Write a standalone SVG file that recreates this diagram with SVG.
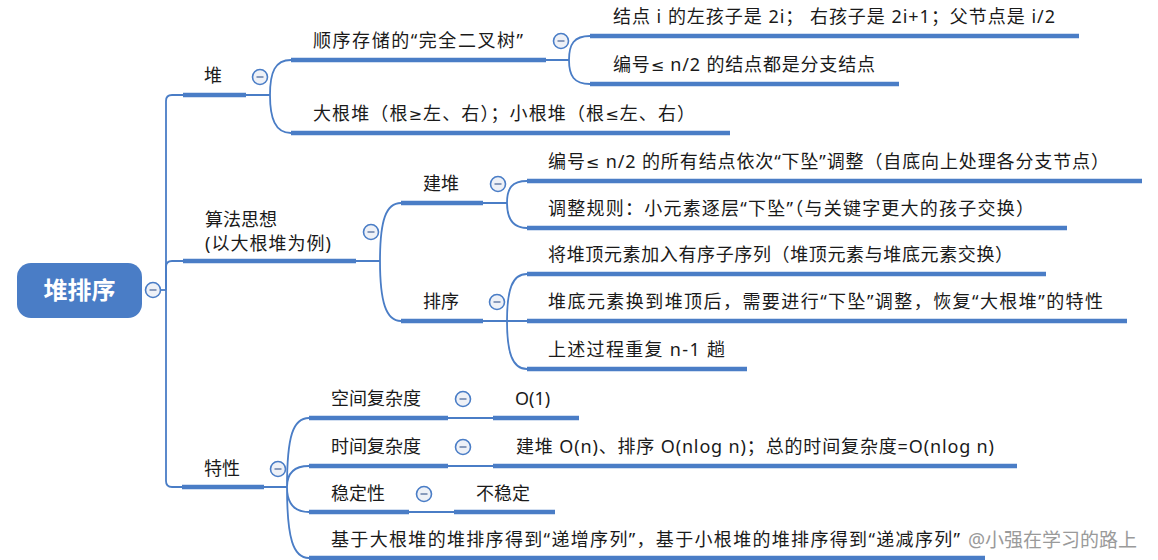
<svg xmlns="http://www.w3.org/2000/svg" width="1158" height="560" viewBox="0 0 1158 560">
<style>
text{font-family:"Noto Sans","Noto Sans CJK SC",sans-serif;font-size:18px;fill:#1a1a1a}
.m{font-family:"DejaVu Sans",sans-serif;font-size:16px}
.root{font-family:"Noto Sans CJK SC",sans-serif;font-size:24px;font-weight:bold;fill:#ffffff}
.u{stroke:#4a7dc6;stroke-width:4.5;fill:none}
.c{stroke:#4a7dc6;stroke-width:1.8;fill:none}
.tg circle{fill:#eef1f7;stroke:#4a7dc6;stroke-width:1.6}
.tg line{stroke:#6f86ad;stroke-width:1.6}
.wm{font-size:19px;fill:#9a9a9a}
</style>
<defs>
<g id="tog" class="tg"><circle r="7.5"/><line x1="-3.5" y1="0" x2="3.5" y2="0"/></g>
</defs>
<rect width="1158" height="560" fill="#ffffff"/>

<g id="connectors">
<path class="c" d="M161,290 H166"/>
<path class="c" d="M166,290 V101 Q166,95 172,95 H183"/>
<path class="c" d="M166,290 V267 Q166,261 172,261 H183"/>
<path class="c" d="M166,290 V481 Q166,487 172,487 H183"/>
<path class="c" d="M246,95 H270 M270,95 C270,72 275,60 291,60 M270,95 C270,118 275,133 291,133"/>
<path class="c" d="M546,60 H569 M569,60 C569,44 574,36 590,36 M569,60 C569,76 574,84 590,84"/>
<path class="c" d="M356,261 H380 M380,261 C380,220 386,203 401,203 M380,261 C380,302 386,321 401,321"/>
<path class="c" d="M483,203 H507 M507,203 C507,188 512,181 527,181 M507,203 C507,218 512,228 527,228"/>
<path class="c" d="M483,321 H527 M507,321 C507,290 512,274 527,274 M507,321 C507,352 512,369 527,369"/>
<path class="c" d="M264,487 H287 M287,487 C287,436 293,418 309,418 M287,487 C287,474 293,466 309,466 M287,487 C287,502 293,512 309,512 M287,487 C287,538 293,558 309,558"/>
<path class="c" d="M448,418 H493 M448,466 H493 M409,512 H454"/>
</g>

<g id="root">
<rect x="17" y="263" width="125" height="55" rx="14" fill="#4a7dc6"/>
<text class="root" x="79.5" y="299" text-anchor="middle">堆排序</text>
<use href="#tog" x="153" y="290"/>
</g>

<g id="n-dui">
<path class="u" d="M183,95 H246"/>
<text x="204" y="82">堆</text>
<use href="#tog" x="260" y="77"/>
</g>
<g id="n-shunxu">
<path class="u" d="M291,60 H546"/>
<text x="313" y="47" textLength="210" lengthAdjust="spacing">顺序存储的“完全二叉树”</text>
<use href="#tog" x="561" y="41"/>
</g>
<g id="n-jiedian">
<path class="u" d="M590,36 H1079"/>
<text x="613" y="23" textLength="442" lengthAdjust="spacing">结点 i 的左孩子是 2i； 右孩子是 2i+1；父节点是 i/2</text>
</g>
<g id="n-bianhao1">
<path class="u" d="M590,84 H899"/>
<text x="613" y="71" textLength="262" lengthAdjust="spacing">编号<tspan class="m">≤</tspan> n/2 的结点都是分支结点</text>
</g>
<g id="n-dagen">
<path class="u" d="M291,133 H730"/>
<text x="313" y="120" textLength="382" lengthAdjust="spacing">大根堆（根<tspan class="m">≥</tspan>左、右）；小根堆（根<tspan class="m">≤</tspan>左、右）</text>
</g>

<g id="n-suanfa">
<path class="u" d="M183,261 H356"/>
<text x="205" y="226">算法思想</text>
<text x="205" y="250" textLength="126" lengthAdjust="spacing">(以大根堆为例)</text>
<use href="#tog" x="371" y="232"/>
</g>
<g id="n-jiandui">
<path class="u" d="M401,203 H483"/>
<text x="423" y="190">建堆</text>
<use href="#tog" x="498" y="184"/>
</g>
<g id="n-bianhao2">
<path class="u" d="M527,181 H1142"/>
<text x="548" y="168" textLength="561" lengthAdjust="spacing">编号<tspan class="m">≤</tspan> n/2 的所有结点依次“下坠”调整（自底向上处理各分支节点）</text>
</g>
<g id="n-guize">
<path class="u" d="M527,228 H1067"/>
<text x="548" y="215" textLength="486" lengthAdjust="spacing">调整规则：小元素逐层“下坠”（与关键字更大的孩子交换）</text>
</g>
<g id="n-paixu">
<path class="u" d="M401,321 H483"/>
<text x="423" y="308">排序</text>
<use href="#tog" x="497" y="302"/>
</g>
<g id="n-jiang">
<path class="u" d="M527,274 H1046"/>
<text x="548" y="261" textLength="465" lengthAdjust="spacing">将堆顶元素加入有序子序列（堆顶元素与堆底元素交换）</text>
</g>
<g id="n-duidi">
<path class="u" d="M527,321 H1127"/>
<text x="548" y="308" textLength="555" lengthAdjust="spacing">堆底元素换到堆顶后，需要进行“下坠”调整，恢复“大根堆”的特性</text>
</g>
<g id="n-shangshu">
<path class="u" d="M527,369 H747"/>
<text x="548" y="356" textLength="177" lengthAdjust="spacing">上述过程重复 n-1 趟</text>
</g>

<g id="n-texing">
<path class="u" d="M182,487 H264"/>
<text x="204" y="475">特性</text>
<use href="#tog" x="278" y="469"/>
</g>
<g id="n-kongjian">
<path class="u" d="M309,418 H448"/>
<text x="331" y="405">空间复杂度</text>
<use href="#tog" x="463" y="399"/>
</g>
<g id="n-o1">
<path class="u" d="M493,418 H579"/>
<text x="515" y="405">O(1)</text>
</g>
<g id="n-shijian">
<path class="u" d="M309,466 H448"/>
<text x="331" y="453">时间复杂度</text>
<use href="#tog" x="463" y="447"/>
</g>
<g id="n-shijianval">
<path class="u" d="M493,466 H1017"/>
<text x="516" y="453" textLength="478" lengthAdjust="spacing">建堆 O(n)、排序 O(nlog n)；总的时间复杂度=O(nlog n)</text>
</g>
<g id="n-wending">
<path class="u" d="M309,512 H409"/>
<text x="331" y="500">稳定性</text>
<use href="#tog" x="424" y="494"/>
</g>
<g id="n-buwending">
<path class="u" d="M454,512 H555"/>
<text x="476" y="500">不稳定</text>
</g>
<g id="n-jiyu">
<path class="u" d="M309,558 H985"/>
<text x="331" y="546" textLength="629" lengthAdjust="spacing">基于大根堆的堆排序得到“递增序列”，基于小根堆的堆排序得到“递减序列”</text>
</g>

<text class="wm" x="968" y="547">@小强在学习的路上</text>
</svg>
